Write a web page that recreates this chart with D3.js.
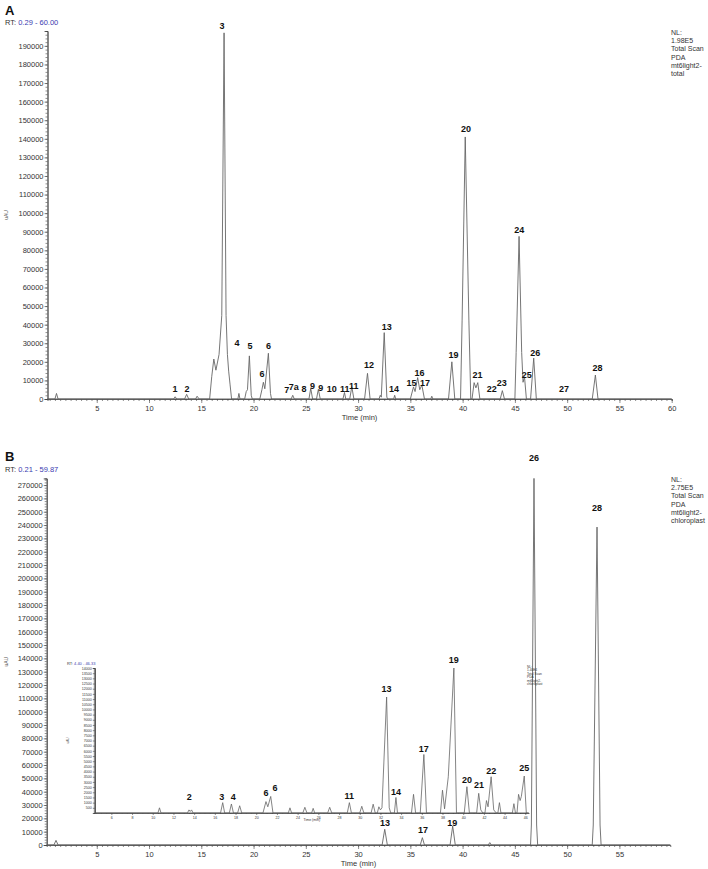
<!DOCTYPE html>
<html><head><meta charset="utf-8">
<script src="https://cdn.jsdelivr.net/npm/d3@7"></script>
<style>
body{margin:0;background:#fff}
svg{display:block;font-family:"Liberation Sans",Arial,Helvetica,sans-serif}
</style></head>
<body><svg id="c" width="708" height="869"></svg>
<script>
// ---------- DATA ----------
// Panel A trace vertices [retention time (min), intensity (uAU)]
const traceA = [
 [0.29,0],[1.0,0],[1.15,3000],[1.3,0],
 [12.35,0],[12.5,1200],[12.65,0],
 [13.4,0],[13.6,2500],[13.8,0],
 [14.45,0],[14.6,1500],[14.8,0],
 [15.8,0],[16.0,12000],[16.2,21500],[16.4,15500],[16.7,24000],[16.96,45000],[17.18,197000],[17.37,45000],[17.5,24000],[17.62,15000],[17.75,8000],[17.9,0],
 [18.5,0],[18.6,3000],[18.7,0],
 [19.15,0],[19.3,4000],[19.42,5000],[19.6,23200],[19.78,2000],[19.88,0],
 [20.6,0],[20.8,5000],[20.94,9000],[21.08,5500],[21.42,24600],[21.62,3000],[21.72,0],
 [23.6,0],[23.75,2000],[23.9,0],
 [25.3,0],[25.47,5700],[25.65,0],
 [26.02,0],[26.2,5200],[26.38,0],
 [28.55,0],[28.7,3500],[28.82,0],
 [29.2,0],[29.4,6600],[29.6,0],
 [30.62,0],[30.9,13800],[31.15,0],
 [32.0,0],[32.12,2000],[32.22,1000],[32.5,35700],[32.75,1000],[32.85,0],
 [33.4,0],[33.5,2000],[33.6,0],
 [35.0,0],[35.3,6500],[35.45,4000],[35.7,11500],[35.9,5000],[36.1,7500],[36.35,0],
 [36.95,0],[37.05,1500],[37.15,0],
 [38.65,0],[38.97,20000],[39.25,0],
 [39.8,0],[39.95,42000],[40.25,141000],[40.6,42000],[40.78,0],
 [40.9,0],[41.1,8800],[41.27,6000],[41.45,8800],[41.65,0],
 [43.6,0],[43.8,4500],[44.0,0],
 [45.0,0],[45.12,25000],[45.4,87500],[45.65,25000],[45.78,9000],[45.92,12000],[46.1,0],
 [46.5,0],[46.8,22000],[47.05,0],
 [52.4,0],[52.7,12900],[52.95,0],
 [60,0]
];
// Panel A peak labels [text, rt, intensity at label baseline]
const labelsA = [
 ["1",12.49,3900],["2",13.64,3900],["3",16.99,199100],["4",18.42,28500],["5",19.67,26900],
 ["6",20.81,11800],["6",21.42,26900],["7",23.18,3200],["7a",23.85,4800],["8",24.83,3800],
 ["9",25.63,5400],["9",26.43,4300],["10",27.48,3800],["11",28.72,3800],["11",29.58,5400],
 ["12",31.05,16700],["13",32.75,37100],["14",33.44,4000],["15",35.1,7000],["16",35.87,12600],
 ["17",36.4,7000],["19",39.12,22100],["20",40.33,143600],["21",41.42,11300],["22",42.79,3800],
 ["23",43.75,7000],["24",45.41,89500],["25",46.14,11300],["26",46.94,22900],["27",49.71,3800],
 ["28",52.9,14800]
];
// Panel B (main) trace vertices
const traceB = [
 [0.21,0],[0.9,0],[1.1,3500],[1.3,0],
 [32.3,0],[32.55,11800],[32.8,0],
 [35.95,0],[36.15,5500],[36.35,0],
 [38.8,0],[39.05,14200],[39.3,0],
 [42.45,0],[42.6,1800],[42.75,0],
 [46.5,0],[46.58,15000],[46.83,275000],[47.08,15000],[47.18,0],
 [52.4,0],[52.5,15000],[52.86,238500],[53.15,15000],[53.25,0],
 [59.87,0]
];
const labelsB = [
 ["26",46.84,288000],["28",52.87,250600],["13",32.58,14200],["17",36.22,9000],["19",39.0,14600]
];
// Panel B inset trace vertices (RT 4.40 - 46.33)
const traceInset = [
 [4.4,0],[10.5,0],[10.65,500],[10.8,0],
 [13.35,0],[13.5,300],[13.62,150],[13.75,300],[13.9,0],
 [16.55,0],[16.76,1000],[16.95,0],
 [17.4,0],[17.6,870],[17.8,0],
 [18.2,0],[18.4,700],[18.6,0],
 [20.65,0],[20.94,1100],[21.12,600],[21.4,1600],[21.62,0],
 [23.1,0],[23.26,500],[23.42,0],
 [24.5,0],[24.7,550],[24.9,0],
 [25.35,0],[25.5,450],[25.65,0],
 [26.9,0],[27.1,550],[27.3,0],
 [28.8,0],[29.0,1000],[29.2,0],
 [30.0,0],[30.2,650],[30.4,0],
 [31.1,0],[31.3,850],[31.5,0],
 [31.7,0],[31.85,600],[32.0,300],[32.15,500],[32.6,11200],[32.85,500],[33.0,0],
 [33.35,0],[33.5,1500],[33.65,0],
 [35.0,0],[35.2,1800],[35.4,0],
 [35.85,0],[36.2,5650],[36.45,0],
 [37.8,0],[38.0,2200],[38.2,400],[38.56,3500],[39.1,14000],[39.35,0],
 [40.1,0],[40.36,2540],[40.6,0],
 [41.3,0],[41.5,1900],[41.7,300],[41.9,0],
 [42.1,0],[42.25,1200],[42.4,600],[42.7,3500],[42.95,300],[43.2,0],
 [43.35,0],[43.5,1000],[43.65,0],
 [44.75,0],[44.9,900],[45.05,0],[45.2,0],[45.35,1800],[45.5,1200],[45.62,1600],[45.9,3570],[46.1,0],[46.33,0]
];
const labelsInset = [
 ["2",13.53,1250],["3",16.66,1250],["4",17.78,1250],["6",20.94,1640],["6",21.81,2120],
 ["11",28.99,1350],["13",32.6,11680],["14",33.5,1740],["17",36.2,5890],["19",39.08,14480],
 ["20",40.36,2900],["21",41.52,2410],["22",42.71,3760],["25",45.9,4050]
];
// Axis ticks
const yTicksA = d3.range(0, 190001, 10000);
const yTicksB = d3.range(0, 270001, 10000);
const xTicksA = [5,10,15,20,25,30,35,40,45,50,55,60];
const xTicksB = [5,10,15,20,25,30,35,40,45,50,55];
const yTicksInset = d3.range(500, 14001, 500);
const xTicksInset = d3.range(6, 47, 2);
const nlA = ["NL:","1.98E5","Total Scan","PDA","mt6light2-","total"];
const nlB = ["NL:","2.75E5","Total Scan","PDA","mt6light2-","chloroplast"];
const nlInset = ["NL:","1.40E4","Total Scan","PDA","mt6light2-","chloroplast"];

// ---------- DRAW ----------
const svg = d3.select("#c");
const TRACE = "#666", AX = "#444", BLUE = "#3b3bb0";

function styleAxis(g, fs){
  g.select(".domain").attr("stroke", AX).attr("stroke-width", 0.8);
  g.selectAll(".tick line").attr("stroke", AX).attr("stroke-width", 0.6);
  g.selectAll(".tick text").attr("fill", "#333").attr("font-size", fs).attr("font-family", "Liberation Sans, Arial, sans-serif");
}

function panel(o){
  const x = d3.scaleLinear().domain(o.xDom).range(o.xRange);
  const y = d3.scaleLinear().domain(o.yDom).range(o.yRange);
  const gym = svg.append("g").attr("transform",`translate(${o.xRange[0]},0)`)
    .call(d3.axisLeft(y).tickValues(d3.range(0, o.yDom[1]+1, o.yMinor)).tickSize(o.minorY).tickFormat(""));
  styleAxis(gym, 0);
  const gy = svg.append("g").attr("transform",`translate(${o.xRange[0]},0)`)
    .call(d3.axisLeft(y).tickValues(o.yTicks).tickSize(o.majorY).tickPadding(1).tickFormat(d3.format("d")));
  styleAxis(gy, o.fs);
  const gxm = svg.append("g").attr("transform",`translate(0,${o.yRange[0]})`)
    .call(d3.axisBottom(x).tickValues(d3.range(Math.ceil(o.xDom[0]/o.xMinor)*o.xMinor, o.xDom[1]+0.001, o.xMinor)).tickSize(o.minorX).tickFormat(""));
  styleAxis(gxm, 0);
  const gx = svg.append("g").attr("transform",`translate(0,${o.yRange[0]})`)
    .call(d3.axisBottom(x).tickValues(o.xTicks).tickSize(o.majorX).tickPadding(o.xPad).tickFormat(d3.format("d")));
  styleAxis(gx, o.fs);
  gx.select(".domain").attr("d", `M${o.xRange[0]},0H${o.xRange[1]}`);
  svg.append("path").datum(o.trace)
    .attr("d", d3.line().x(d=>x(d[0])).y(d=>y(d[1])))
    .attr("fill","none").attr("stroke",TRACE).attr("stroke-width",o.sw).attr("stroke-linejoin","miter");
  svg.append("g").selectAll("text").data(o.labels).join("text")
    .attr("x", d=>x(d[1])).attr("y", d=>y(d[2]))
    .attr("text-anchor","middle").attr("font-weight","bold").attr("font-size",o.lfs).attr("fill","#111")
    .text(d=>d[0]);
  svg.append("text").attr("x",(o.xRange[0]+o.xRange[1])/2 + o.titleDx).attr("y",o.titleY)
    .attr("text-anchor","middle").attr("font-size",o.tfs).attr("fill","#333").text("Time (min)");
  svg.append("text").attr("transform",`translate(${o.yTitleX},${(o.yRange[0]+o.yRange[1])/2}) rotate(-90)`)
    .attr("text-anchor","middle").attr("font-size",o.yfs).attr("fill","#555").text("uAU");
  const rt = svg.append("text").attr("x",o.rtX).attr("y",o.rtY).attr("font-size",o.rfs).attr("fill","#333");
  rt.append("tspan").text("RT: ");
  rt.append("tspan").attr("fill",BLUE).text(o.rt);
  svg.append("g").selectAll("text").data(o.nl).join("text")
    .attr("x",o.nlX).attr("y",(d,i)=>o.nlY+i*o.nlDy).attr("font-size",o.nfs).attr("fill","#333").text(d=>d);
  return {x,y};
}

panel({xDom:[0.29,60], xRange:[47.5,671.7], yDom:[0,198000], yRange:[399,31],
  yTicks:yTicksA, yMinor:2000, xTicks:xTicksA, xMinor:0.5,
  majorY:3, minorY:2, majorX:4, minorX:2, xPad:3, fs:7.5, sw:0.9,
  trace:traceA, labels:labelsA, lfs:9, titleY:420, titleDx:0, tfs:7.5,
  yTitleX:8, yfs:5, rtX:5, rtY:25, rfs:7.5, rt:"0.29 - 60.00",
  nl:nlA, nlX:671, nlY:35, nlDy:8.2, nfs:7});
panel({xDom:[0.21,59.87], xRange:[46.7,670.3], yDom:[0,275000], yRange:[845,478.4],
  yTicks:yTicksB, yMinor:2000, xTicks:xTicksB, xMinor:0.5,
  majorY:3, minorY:2, majorX:4, minorX:2, xPad:3, fs:7.5, sw:0.9,
  trace:traceB, labels:labelsB, lfs:9, titleY:866, titleDx:0, tfs:7.5,
  yTitleX:8, yfs:5, rtX:5, rtY:472, rfs:7.5, rt:"0.21 - 59.87",
  nl:nlB, nlX:671, nlY:482, nlDy:8.2, nfs:7});
panel({xDom:[4.4,46.33], xRange:[94.8,528.7], yDom:[0,14000], yRange:[813,668],
  yTicks:yTicksInset, yMinor:100, xTicks:xTicksInset, xMinor:0.5,
  majorY:2, minorY:1, majorX:2, minorX:1, xPad:1, fs:3.6, sw:0.8,
  trace:traceInset, labels:labelsInset, lfs:9, titleY:821, titleDx:0, tfs:3.5,
  yTitleX:69, yfs:3, rtX:67, rtY:665, rfs:4, rt:"4.40 - 46.33",
  nl:nlInset, nlX:527, nlY:668, nlDy:3.4, nfs:3.2});
svg.append("text").attr("x",5).attr("y",15).attr("font-size",13).attr("font-weight","bold").attr("fill","#111").text("A");
svg.append("text").attr("x",5).attr("y",461).attr("font-size",13).attr("font-weight","bold").attr("fill","#111").text("B");
</script></body></html>
